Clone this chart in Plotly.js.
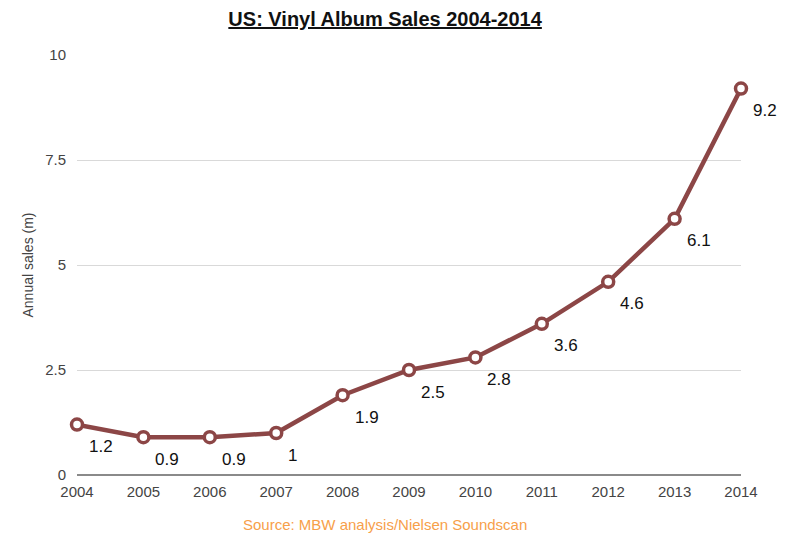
<!DOCTYPE html>
<html>
<head>
<meta charset="utf-8">
<script src="https://cdn.plot.ly/plotly-3.0.1.min.js"></script>
<style>html,body{margin:0;padding:0;background:#fff;}#chart{width:800px;height:543px;}</style>
</head>
<body>
<div id="chart"></div>
<script>
var years = [2004, 2005, 2006, 2007, 2008, 2009, 2010, 2011, 2012, 2013, 2014];
var sales = [1.2, 0.9, 0.9, 1, 1.9, 2.5, 2.8, 3.6, 4.6, 6.1, 9.2];
var yTicks = [0, 2.5, 5, 7.5, 10];
var yTickText = ['0', '2.5', '5', '7.5', '10'];

var font = 'Liberation Sans, Arial, Helvetica, sans-serif';
var lineColor = '#8c4646';

var trace = {
  x: years,
  y: sales,
  type: 'scatter',
  mode: 'lines+markers',
  cliponaxis: false,
  line: {color: lineColor, width: 4.5},
  marker: {size: 11, color: '#ffffff', line: {color: lineColor, width: 3.5}},
  hoverinfo: 'skip'
};

var annotations = years.map(function (yr, i) {
  return {
    x: yr, y: sales[i], xref: 'x', yref: 'y',
    text: String(sales[i]),
    showarrow: false, xanchor: 'left', yanchor: 'middle',
    xshift: 10, yshift: -22,
    font: {family: font, size: 17, color: '#111'}
  };
});
annotations.push({
  xref: 'paper', yref: 'paper', x: 0.464, y: -0.117, xanchor: 'center', yanchor: 'middle',
  text: 'Source: MBW analysis/Nielsen Soundscan', showarrow: false,
  font: {family: font, size: 15, color: '#f7a04a'}
});

var layout = {
  width: 800, height: 543,
  margin: {l: 77, r: 59, t: 55, b: 68},
  paper_bgcolor: '#ffffff', plot_bgcolor: '#ffffff',
  showlegend: false,
  title: {
    text: '<b><u>US: Vinyl Album Sales 2004-2014</u></b>',
    x: 0.464, xref: 'paper', xanchor: 'center', y: 0.965, yanchor: 'middle',
    font: {family: font, size: 20, color: '#111'}
  },
  xaxis: {
    range: [2004, 2014],
    tickvals: years, ticktext: years.map(String),
    showgrid: false, zeroline: false, showline: false,
    ticks: '', ticklen: 0,
    ticklabelstandoff: 6,
    tickfont: {family: font, size: 15, color: '#444'},
    automargin: false
  },
  yaxis: {
    range: [0, 10],
    tickvals: yTicks, ticktext: yTickText,
    showgrid: true, gridcolor: '#d9d9d9', gridwidth: 1,
    zeroline: true, zerolinecolor: '#8a8a8a', zerolinewidth: 1.5,
    showline: false, ticks: '',
    ticklabelstandoff: 10,
    tickfont: {family: font, size: 15, color: '#444'},
    title: {text: 'Annual sales (m)', standoff: 8, font: {family: font, size: 14, color: '#444'}},
    automargin: false
  },
  annotations: annotations
};

Plotly.newPlot('chart', [trace], layout, {displayModeBar: false, staticPlot: true});
</script>
</body>
</html>
